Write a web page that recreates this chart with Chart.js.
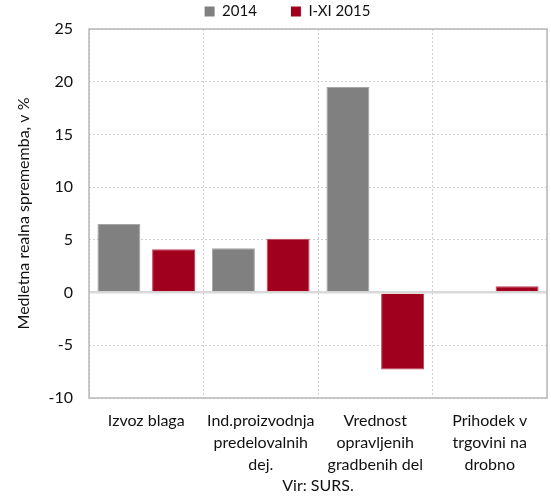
<!DOCTYPE html>
<html>
<head>
<meta charset="utf-8">
<script src="https://cdn.jsdelivr.net/npm/chart.js@4"></script>
<style>
    html, body { margin: 0; padding: 0; background: #fff; }
    #wrap { width: 551px; height: 498px; }
</style>
</head>
<body>
<div id="wrap"><canvas id="plot1" width="551" height="498"></canvas></div>
<script>
const categories = [
    ['Izvoz blaga'],
    ['Ind.proizvodnja', 'predelovalnih', 'dej.'],
    ['Vrednost', 'opravljenih', 'gradbenih del'],
    ['Prihodek v', 'trgovini na', 'drobno']
];
const seriesNames = ['2014', 'I-XI 2015'];
const values2014 = [6.5, 4.2, 19.5, null];
const values2015 = [4.1, 5.1, -7.3, 0.6];
const yMin = -10, yMax = 25, yStep = 5;

const FONT = 'Lato';

// solid frame round the plot area, and nudge the legend a little right
const framePlugin = {
    id: 'frame',
    afterLayout(chart) {
        chart.legend.left += 14;
        chart.legend.right += 14;
    },
    beforeDatasetsDraw(chart) {
        const { ctx, chartArea: a } = chart;
        ctx.save();
        ctx.strokeStyle = '#b8b8b8';
        ctx.lineWidth = 1.5;
        ctx.strokeRect(a.left, a.top, a.right - a.left, a.bottom - a.top);
        ctx.restore();
    }
};

const isZero = (c) => c.tick && c.tick.value === 0;

new Chart(document.getElementById('plot1').getContext('2d'), {
    type: 'bar',
    data: {
        labels: categories,
        datasets: [{
            label: seriesNames[0],
            data: values2014,
            backgroundColor: '#808080',
            borderColor: '#a6a6a6',
            borderWidth: 1,
            categoryPercentage: 0.955,
            barPercentage: 0.786
        }, {
            label: seriesNames[1],
            data: values2015,
            backgroundColor: '#a0001e',
            borderColor: '#c0405a',
            borderWidth: 1,
            categoryPercentage: 0.955,
            barPercentage: 0.786
        }]
    },
    options: {
        responsive: false,
        animation: false,
        layout: { padding: { top: 0, right: 4, left: 0, bottom: 0 } },
        plugins: {
            tooltip: { enabled: false },
            legend: {
                position: 'top',
                labels: {
                    font: { family: FONT, size: 15 },
                    color: '#111',
                    boxWidth: 10,
                    boxHeight: 10,
                    padding: 4,
                    generateLabels(chart) {
                        const items = Chart.defaults.plugins.legend.labels.generateLabels(chart);
                        items.forEach((it, i) => {
                            it.lineWidth = 0;
                            if (i === 0) it.text = it.text + '\u2003\u2003\u2002';
                        });
                        return items;
                    }
                }
            }
        },
        scales: {
            x: {
                grid: {
                    offset: true,
                    drawTicks: false,
                    color: '#d0d0d0',
                    lineWidth: 1
                },
                border: { display: false, dash: [2, 2] },
                ticks: {
                    font: { family: FONT, size: 16, lineHeight: 1.38 },
                    color: '#111',
                    padding: 12,
                    maxRotation: 0
                },
                title: {
                    display: true,
                    text: 'Vir: SURS.',
                    font: { family: FONT, size: 16 },
                    color: '#111',
                    padding: { top: 0, bottom: 3 }
                },
                afterFit(scale) { scale.height = 100; }
            },
            y: {
                min: yMin,
                max: yMax,
                ticks: {
                    stepSize: yStep,
                    font: { family: FONT, size: 16 },
                    color: '#111',
                    padding: 16
                },
                grid: {
                    drawTicks: false,
                    color: (c) => isZero(c) ? '#d9d9d9' : '#d0d0d0',
                    lineWidth: (c) => isZero(c) ? 2.5 : 1
                },
                border: {
                    display: false,
                    dash: (c) => isZero(c) ? [] : [2, 2]
                },
                title: {
                    display: true,
                    text: 'Medletna realna sprememba, v %',
                    font: { family: FONT, size: 16 },
                    color: '#111',
                    padding: { top: 14, bottom: 0 }
                },
                afterFit(scale) { scale.width = 89; }
            }
        }
    },
    plugins: [framePlugin]
});
</script>
</body>
</html>
